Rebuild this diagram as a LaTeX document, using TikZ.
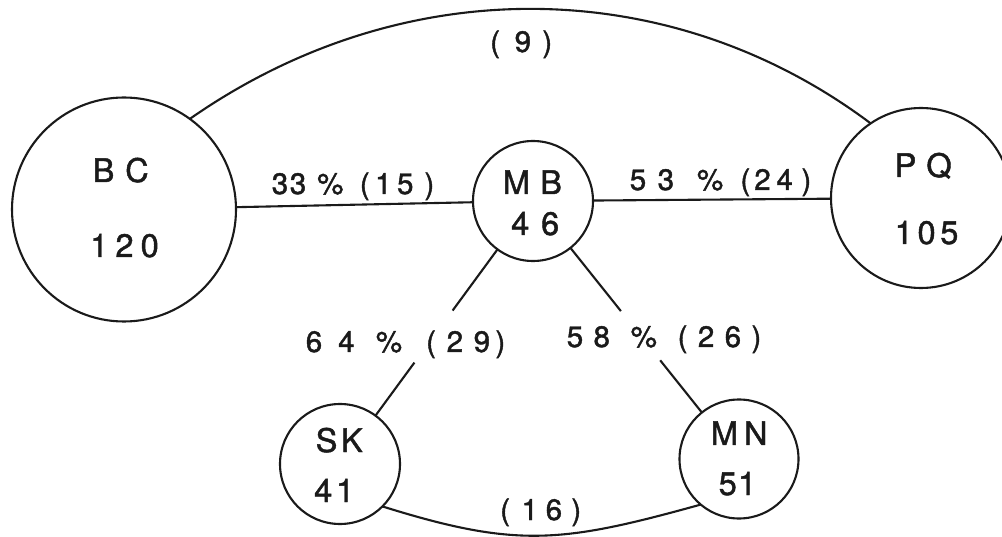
\documentclass[tikz,border=0pt]{standalone}
\usepackage{fontspec}
\newfontfamily\lettering[FakeBold=1.4]{TeX Gyre Heros}
\definecolor{ink}{HTML}{1A1A1A}
% stretchable gap between lettered characters, weighted by #1
\newcommand\gp[1]{\hskip 0pt plus #1fill\relax}

\begin{document}
\begin{tikzpicture}[x=1pt,y=-1pt]
\tikzset{
  ring/.style={circle, draw=ink, line width=2.1pt, inner sep=0pt, outer sep=0pt},
  link/.style={draw=ink, line width=2.1pt},
  citytext/.style={anchor=base west, inner sep=0pt, text=ink,
    font=\lettering\fontsize{32.5}{32.5}\selectfont},
  flowtext/.style={anchor=base west, inner sep=0pt, text=ink,
    font=\lettering\fontsize{29.5}{29.5}\selectfont},
}
\clip (0,0) rectangle (1002,537);
\fill[white] (0,0) rectangle (1002,537);

% provinces
\node[ring, minimum size=224pt] (BC) at (124,209.5) {};
\node[ring, minimum size=120pt] (MB) at (533,201) {};
\node[ring, minimum size=180pt] (PQ) at (921,198) {};
\node[ring, minimum size=120pt] (SK) at (340,464) {};
\node[ring, minimum size=119pt] (MN) at (739,459) {};

% province names and totals
\node[citytext] (BCname) at (92.5,182) {\makebox[56pt]{B\hfill C}};
\node[citytext] (BCnum)  at (90,257)   {\makebox[68.6pt]{1\gp{1}2\gp{1}0}};
\node[citytext] (MBname) at (502.7,194) {\makebox[59pt]{M\hfill B}};
\node[citytext] (MBnum)  at (511,235)   {\makebox[48pt]{4\hfill 6}};
\node[citytext] (PQname) at (894.5,177) {\makebox[57pt]{P\hfill Q}};
\node[citytext] (PQnum)  at (894.6,244) {\makebox[63.6pt]{1\gp{1}0\gp{1}5}};
\node[citytext] (SKname) at (315.5,452) {\makebox[47pt]{S\hfill K}};
\node[citytext] (SKnum)  at (314,502)   {\makebox[40pt]{4\hfill 1}};
\node[citytext] (MNname) at (710.7,445) {\makebox[56.6pt]{M\hfill N}};
\node[citytext] (MNnum)  at (718.5,495) {\makebox[37.5pt]{5\hfill 1}};

% links
\draw[link] (BC) -- (MB);
\draw[link] (MB) -- (PQ);
\path (MB) -- (SK) coordinate[pos=0.368] (mbskA) coordinate[pos=0.681] (mbskB);
\draw[link] (MB) -- (mbskA);
\draw[link] (mbskB) -- (SK);
\path (MB) -- (MN) coordinate[pos=0.384] (mbmnA) coordinate[pos=0.683] (mbmnB);
\draw[link] (MB) -- (mbmnA);
\draw[link] (mbmnB) -- (MN);
\draw[link] (BC.54) .. controls (406,-32) and (673,-25) .. (PQ.124);
\draw[link] (SK.-45) .. controls (517,548.5) and (562,543) .. (MN.-130);

% link labels
\node[flowtext] (lbcmb) at (271.6,194)
  {\makebox[162.5pt]{3\gp{0.3}3\gp{2}\%\gp{3}(\gp{1}1\gp{1}5\gp{2})}};
\node[flowtext] (lmbpq) at (629.6,190)
  {\makebox[181.5pt]{5\gp{2}3\gp{4}\%\gp{3}(\gp{0.7}2\gp{1}4\gp{1.5})}};
\node[flowtext] (lmbsk) at (305.6,352)
  {\makebox[199.5pt]{6\gp{3}4\gp{4}\%\gp{4.5}(\gp{2}2\gp{2}9\gp{1})}};
\node[flowtext] (lmbmn) at (566.6,347)
  {\makebox[194.5pt]{5\gp{1}8\gp{2}\%\gp{2}(\gp{1}2\gp{1}6\gp{1})}};
\node[flowtext] (lbcpq) at (490,52)
  {\makebox[62pt]{(\gp{1.3}9\gp{1})}};
\node[flowtext] (lskmn) at (500,520)
  {\makebox[81pt]{(\gp{1.5}1\gp{1}6\gp{1.2})}};
\end{tikzpicture}
\end{document}
